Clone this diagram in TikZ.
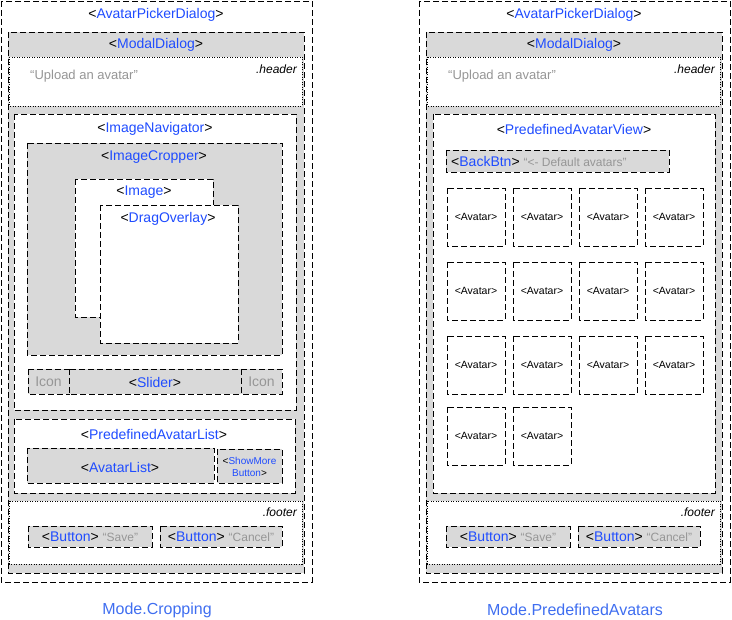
\documentclass[tikz,border=0pt]{standalone}
\usepackage{fontspec}
\setmainfont{Liberation Sans}
\usetikzlibrary{positioning}
\definecolor{compblue}{RGB}{31,76,255}
\definecolor{modeblue}{RGB}{63,110,240}
\definecolor{boxgray}{RGB}{217,217,217}
\definecolor{textgray}{RGB}{150,150,150}
\newcommand{\comp}[1]{<\textcolor{compblue}{#1}>}
\newcommand{\hinttext}[1]{{\fontsize{12}{14}\selectfont\color{textgray}#1}}

\begin{document}
\begin{tikzpicture}[x=1pt, y=-1pt,
        every node/.style = {inner sep=0pt, font=\fontsize{14}{16}\selectfont},
        frame/.style = {draw, line width=0.9pt, dash pattern=on 6pt off 3pt},
        graybox/.style = {frame, fill=boxgray},
        whitebox/.style = {frame, fill=white},
        slotbox/.style = {draw, line width=0.8pt, dash pattern=on 1pt off 1.5pt, fill=white},
        slotname/.style = {anchor=base east, font=\fontsize{12}{14}\selectfont\itshape},
        hint/.style = {text=textgray}
    ]
    \useasboundingbox (0,0) rectangle (732,620);

    % the frame both modes share
    \foreach \ox/\mode in {0/Cropping, 418/PredefinedAvatars} {
        \begin{scope}[xshift=\ox pt]
            \draw[whitebox] (1,1) rectangle (312,582);
            \node (picker\ox) at (156,15) {\comp{AvatarPickerDialog}};
            \draw[graybox] (8,32) rectangle (304,573);
            \node (modal\ox) at (156,45) {\comp{ModalDialog}};
            \draw[slotbox] (9,57) rectangle (302,106);
            \node[slotname] (header\ox) at (297,74) {.header};
            \node[hint, anchor=base west, font=\fontsize{13}{15}\selectfont] (title\ox) at (30,80) {“Upload an avatar”};
            \draw[slotbox] (9,501) rectangle (302,564);
            \node[slotname] (footer\ox) at (297,517) {.footer};
            \draw[graybox] (28,526) rectangle (152,547);
            \node (save\ox) at (90,537) {\comp{Button} \hinttext{“Save”}};
            \draw[graybox] (160,526) rectangle (282,547);
            \node (cancel\ox) at (221,537) {\comp{Button} \hinttext{“Cancel”}};
            \node[text=modeblue, font=\fontsize{16}{18}\selectfont] (mode\ox) at (157,610) {Mode.\mode};
        \end{scope}
    }

    % Mode.Cropping
    \draw[whitebox] (14,114) rectangle (296,410);
    \node (navigator) at (155,129) {\comp{ImageNavigator}};
    \draw[graybox] (27,143) rectangle (282,355);
    \node (cropper) at (154,157) {\comp{ImageCropper}};
    \draw[whitebox] (75,179) rectangle (213,317);
    \node (image) at (144,192) {\comp{Image}};
    \draw[whitebox] (100,205) rectangle (238,343);
    \node (overlay) at (168,219) {\comp{DragOverlay}};
    \draw[graybox] (28,369) rectangle (69,394);
    \draw[graybox] (69,369) rectangle (241,394);
    \draw[graybox] (241,369) rectangle (282,394);
    \node[hint] (iconl) at (48.5,382) {Icon};
    \node (slider) at (155,382) {\comp{Slider}};
    \node[hint] (iconr) at (261.5,382) {Icon};
    \draw[whitebox] (14,419) rectangle (295,493);
    \node (avlist) at (154,434) {\comp{PredefinedAvatarList}};
    \draw[graybox] (27,448) rectangle (214,483);
    \node (avatars) at (120,467) {\comp{AvatarList}};
    \draw[graybox] (217,449) rectangle (282,483);
    \node[align=center, font=\fontsize{10}{12}\selectfont] (showmore) at (249.5,467)
        {<\textcolor{compblue}{ShowMore}\\\textcolor{compblue}{Button}>};

    % Mode.PredefinedAvatars
    \draw[whitebox] (433,114) rectangle (715,493);
    \node (avview) at (574,129) {\comp{PredefinedAvatarView}};
    \draw[graybox] (446,150) rectangle (669,172);
    \node[anchor=west] (backbtn) at (451,161) {\comp{BackBtn} \hinttext{“<- Default avatars”}};
    \foreach \r/\y/\n in {1/188/3, 2/262/3, 3/336/3, 4/407/1} {
        \foreach \c in {0,...,\n} {
            \draw[whitebox] (447+66*\c,\y) rectangle ++(58,58);
            \node[font=\fontsize{10.5}{12}\selectfont] (avatar\r\c) at (476+66*\c,\y+29) {<Avatar>};
        }
    }
\end{tikzpicture}
\end{document}
